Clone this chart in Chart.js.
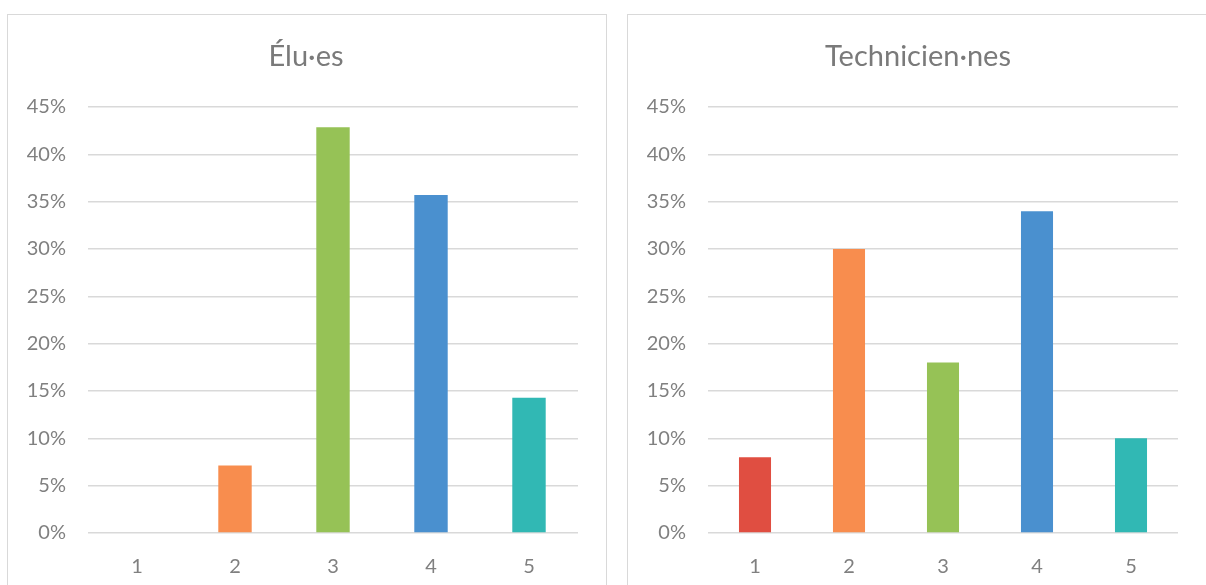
<!DOCTYPE html>
<html>
<head>
<meta charset="utf-8">
<script src="https://cdn.jsdelivr.net/npm/chart.js@4"></script>
<style>
  html, body { margin: 0; padding: 0; background: #fff; overflow: hidden; }
  body { width: 1206px; height: 585px; position: relative; font-family: Lato, "Open Sans", sans-serif; }
  .panel { position: absolute; top: 14px; width: 598px; height: 600px; border: 1px solid #d9d9d9; background: #fff; }
  .panel canvas { position: absolute; left: 0; top: 0; }
</style>
</head>
<body>
<div class="panel" style="left:7px;"><canvas id="eluChart" width="598" height="570"></canvas></div>
<div class="panel" style="left:627px;"><canvas id="techChart" width="598" height="570"></canvas></div>
<script>
const categories = ['1', '2', '3', '4', '5'];
const eluValues = [0, 7.14, 42.86, 35.71, 14.29];
const techValues = [8, 30, 18, 34, 10];
const barColors = ['#E04E41', '#F88D4E', '#96C256', '#4A90CF', '#31B8B4'];
const yTicks = [0, 5, 10, 15, 20, 25, 30, 35, 40, 45];

// title drawn by hand so it can sit off-centre like in the original
const panelTitle = {
    id: 'panelTitle',
    afterDraw(chart, args, opts) {
        const ctx = chart.ctx;
        ctx.save();
        ctx.font = '29px Lato';
        ctx.fillStyle = '#7a7a7a';
        ctx.textAlign = 'center';
        ctx.textBaseline = 'middle';
        ctx.fillText(opts.text, opts.x, opts.y);
        ctx.restore();
    }
};

function makeChart(id, title, values, titleX, rightPad) {
    const ctx = document.getElementById(id).getContext('2d');
    return new Chart(ctx, {
        type: 'bar',
        data: {
            labels: categories,
            datasets: [{
                data: values,
                backgroundColor: barColors,
                barPercentage: 0.55,
                categoryPercentage: 0.62
            }]
        },
        plugins: [panelTitle],
        options: {
            responsive: false,
            animation: false,
            layout: { padding: { left: 0, right: rightPad, top: 92, bottom: 0 } },
            plugins: {
                legend: { display: false },
                tooltip: { enabled: false },
                title: { display: false },
                panelTitle: { text: title, x: titleX, y: 42 }
            },
            scales: {
                x: {
                    grid: { display: false },
                    border: { display: false },
                    ticks: { color: '#808080', font: { family: 'Lato', size: 20 }, padding: 14 },
                    afterFit: function (scale) { scale.height = 52; }
                },
                y: {
                    min: 0,
                    max: 45,
                    afterBuildTicks: function (scale) { scale.ticks = yTicks.map(v => ({ value: v })); },
                    grid: { color: '#d9d9d9', lineWidth: 1.5, drawTicks: false },
                    border: { display: false },
                    ticks: {
                        color: '#808080',
                        font: { family: 'Lato', size: 20 },
                        padding: 22,
                        callback: v => v + '%'
                    },
                    afterFit: function (scale) { scale.width = 80; }
                }
            }
        }
    });
}

document.addEventListener("DOMContentLoaded", function () {
    makeChart('eluChart', 'Élu·es', eluValues, 298, 28);
    makeChart('techChart', 'Technicien·nes', techValues, 290, 48);
});
</script>
</body>
</html>
